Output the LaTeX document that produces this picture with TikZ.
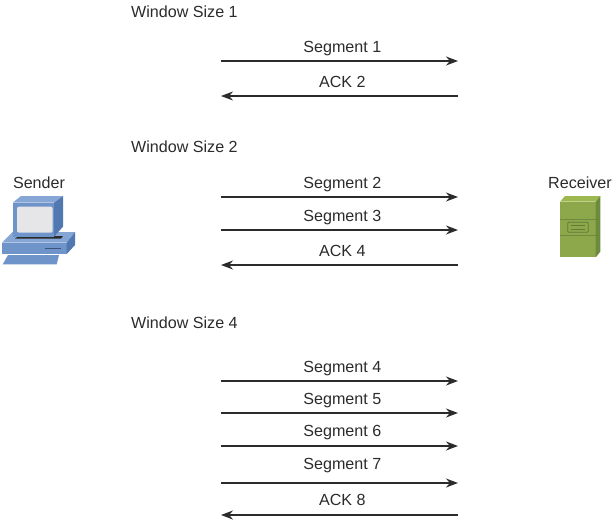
\documentclass[tikz,border=0pt]{standalone}
\usepackage{fontspec}
\setmainfont{Liberation Sans}
\usetikzlibrary{arrows.meta}
\definecolor{ink}{HTML}{2B2B2B}
\definecolor{pcfront}{HTML}{6F94C9}
\definecolor{pctop}{HTML}{86A6D6}
\definecolor{pcside}{HTML}{5278B2}
\definecolor{pcscreen}{HTML}{E6E6E8}
\definecolor{srvfront}{HTML}{8CA84A}
\definecolor{srvtop}{HTML}{9DB84F}
\definecolor{srvside}{HTML}{6E8A3C}
\definecolor{srvline}{HTML}{5F7A3A}
\tikzset{
  x=1pt,y=-1pt,
  lbl/.style={text=ink,font=\fontsize{16.1}{18}\selectfont,inner sep=0pt,anchor=base},
  ttl/.style={lbl,anchor=base west},
  msg/.style={draw=ink,line width=1.5pt,-{Stealth[length=12pt,width=9pt]}},
}
\begin{document}
\begin{tikzpicture}
\useasboundingbox (0,0) rectangle (615,522);
% Sender computer
\fill[pctop] (2,242.7) -- (12.7,232) -- (75,232) -- (66.7,242.7) -- cycle;
\fill[pcfront] (2,242.7) rectangle (66.7,254);
\fill[pcside] (66.7,242.7) -- (75,232) -- (75,245) -- (66.7,254) -- cycle;
\fill[pcfront] (2.7,264.3) -- (8,255) -- (59,255) -- (56.7,264.3) -- cycle;
\fill[ink] (15,238.5) -- (19,236) -- (63,236) -- (61,238.5) -- cycle;
\fill[pctop] (12.7,202.7) -- (21,196) -- (63,196) -- (54,202.7) -- cycle;
\fill[pcfront] (12.7,202.7) rectangle (54,236.7);
\fill[pcside] (54,202.7) -- (63,196) -- (63,226.7) -- (54,236.7) -- cycle;
\fill[pcscreen,rounded corners=2pt] (17,206.7) rectangle (52.7,232.7);
\draw[pcside!70!black,line width=1pt] (45,248.5) -- (61,248.5);
% Receiver server
\fill[srvtop] (560,201.7) -- (565,196) -- (600.3,196) -- (595.7,201.7) -- cycle;
\fill[srvfront] (560,201.7) rectangle (595.7,257.3);
\fill[srvside] (595.7,201.7) -- (600.3,196) -- (600.3,251.7) -- (595.7,257.3) -- cycle;
\draw[srvline!70!srvfront,line width=.7pt] (560,219.3) -- (595.7,219.3) (560,235) -- (595.7,235);
\draw[srvline,line width=.8pt,rounded corners=1pt] (567.7,222.3) rectangle (588.3,232.3);
\draw[srvline,line width=.7pt] (571,225.5) -- (585,225.5) (571,229) -- (585,229);
% Labels
\node[lbl] (sender) at (39,188.5) {Sender};
\node[lbl] (receiver) at (580,188.5) {Receiver};
\node[ttl] (w1) at (131,17.5) {Window Size 1};
\node[ttl] (w2) at (131,152) {Window Size 2};
\node[ttl] (w4) at (131,328.5) {Window Size 4};
% Arrow end points and labels
\foreach \n/\y/\t/\ly in {a/61/Segment 1/52, b/197/Segment 2/188.6, c/230/Segment 3/221.4, d/381/Segment 4/372.4, e/413/Segment 5/404.4, f/446/Segment 6/436.6, g/483/Segment 7/469.4}{
  \coordinate (\n l) at (221,\y);
  \coordinate (\n r) at (458,\y);
  \node[lbl] (\n t) at (342.3,\ly) {\t};
  \draw[msg] (\n l) -- (\n r);
}
\foreach \n/\y/\t/\ly in {p/96/ACK 2/87.6, q/265/ACK 4/256.6, r/515/ACK 8/505.4}{
  \coordinate (\n l) at (221,\y);
  \coordinate (\n r) at (458,\y);
  \node[lbl] (\n t) at (342.3,\ly) {\t};
  \draw[msg] (\n r) -- (\n l);
}
\end{tikzpicture}
\end{document}
